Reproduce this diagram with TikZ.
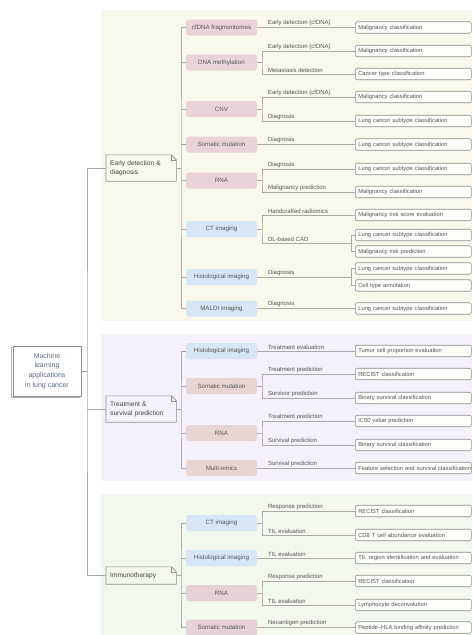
\documentclass[tikz,border=0pt]{standalone}
\usepackage{fontspec}
\setmainfont{Liberation Sans}
\usetikzlibrary{shadows}
\definecolor{pyel}{HTML}{F8F8EC}
\definecolor{ppur}{HTML}{F4F1FA}
\definecolor{pgrn}{HTML}{F2F8EE}
\definecolor{pinkA}{HTML}{E9D3D9}
\definecolor{pinkB}{HTML}{E7D5D3}
\definecolor{pinkC}{HTML}{E8D1D6}
\definecolor{blueM}{HTML}{D7E6F5}
\definecolor{linec}{HTML}{A9A9A9}
\definecolor{resc}{HTML}{8E8E8E}
\definecolor{resfill}{HTML}{FDFDFA}
\definecolor{txt}{HTML}{555555}
\definecolor{txtd}{HTML}{444444}
\definecolor{roottxt}{HTML}{5D6B7E}
\begin{document}
\begin{tikzpicture}[x=1pt,y=-1pt,
  font=\fontsize{6}{7.2}\selectfont,
  conn/.style={draw=linec, line width=0.6pt},
  catline/.style={draw=resc, line width=0.6pt},
  methodbox/.style={rounded corners=2.5pt, minimum width=71pt, minimum height=16pt, inner sep=0pt, text=txt, font=\fontsize{6.2}{7.2}\selectfont},
  mpinkA/.style={methodbox, fill=pinkA},
  mpinkB/.style={methodbox, fill=pinkB},
  mpinkC/.style={methodbox, fill=pinkC},
  mblue/.style={methodbox, fill=blueM},
  resbox/.style={draw=resc, line width=0.6pt, rounded corners=2pt, fill=resfill, anchor=west, minimum height=11.5pt, text width=110pt, inner xsep=3pt, inner ysep=0pt, align=left, text=txt, font=\fontsize{5.8}{7}\selectfont},
  tasklbl/.style={anchor=south west, inner sep=0.8pt, yshift=0.5pt, text=txt},
  catbox/.style={anchor=west, minimum width=70pt, text width=62pt, align=left, inner xsep=4pt, inner ysep=0pt, font=\fontsize{6.6}{9}\selectfont, text=txtd},
  rootbox/.style={draw=resc, line width=0.6pt, fill=white, minimum width=68pt, minimum height=50pt, inner sep=0pt, align=center, text=roottxt, font=\fontsize{7}{9.7}\selectfont, copy shadow={shadow xshift=-1.3pt, shadow yshift=-1.3pt, draw=resc!70, fill=white}}
]
\useasboundingbox (0,0) rectangle (472,635);
\begin{scope}
\clip (0,0) rectangle (472,635);
% panels
\path[fill=pyel, draw=pyel!85!black!20] (101,10) rectangle (480,320);
\path[fill=ppur, draw=ppur!85!black!20] (101,334) rectangle (480,480);
\path[fill=pgrn, draw=pgrn!85!black!20] (101,494) rectangle (480,645);

% root and categories
\node[rootbox] (root) at (47,371) {Machine\\learning\\applications\\in lung cancer};
\node[catbox, minimum height=26pt] (c1) at (106,168) {Early detection \&\\diagnosis};
\node[catbox, minimum height=26pt] (c2) at (106,409) {Treatment \&\\survival prediction};
\node[catbox, minimum height=17pt] (c3) at (106,575.5) {Immunotherapy};
\foreach \c in {c1,c2,c3}{
  \draw[catline] (\c.south west) -- (\c.north west) -- ([xshift=-5pt]\c.north east) -- ([yshift=-5pt]\c.north east) -- (\c.south east) -- cycle;
  \draw[catline] ([xshift=-5pt]\c.north east) -- ([xshift=-5pt,yshift=-5pt]\c.north east) -- ([yshift=-5pt]\c.north east);
}
\coordinate (tr) at (87,371);
\draw[conn] (root.east) -- (tr);
\draw[conn] (c1.west) -| (tr) |- (c3.west);
\draw[conn] (c2.west) -- (c2.west -| tr);

% ===== Early detection & diagnosis =====
\node[mpinkA] (m1) at (221.5,27.5) {cfDNA fragmentomes};
\node[mpinkA] (m2) at (221.5,62.5) {DNA methylation};
\node[mpinkA] (m3) at (221.5,109) {CNV};
\node[mpinkA] (m4) at (221.5,144.5) {Somatic mutation};
\node[mpinkA] (m5) at (221.5,180.5) {RNA};
\node[mblue] (m6) at (221.5,229) {CT imaging};
\node[mblue] (m7) at (221.5,277) {Histological imaging};
\node[mblue] (m8) at (221.5,308.5) {MALDI imaging};
\coordinate (b1) at (181,168);
\draw[conn] (c1.east) -- (b1);
\draw[conn] (m1.west) -| (b1) |- (m8.west);
\foreach \m in {m2,m3,m4,m5,m6,m7}{\draw[conn] (\m.west) -- (\m.west -| b1);}

\node[resbox] (r1) at (355,27.5) {Malignancy classification};
\node[resbox] (r2) at (355,51) {Malignancy classification};
\node[resbox] (r3) at (355,74) {Cancer type classification};
\node[resbox] (r4) at (355,97) {Malignancy classification};
\node[resbox] (r5) at (355,121) {Lung cancer subtype classification};
\node[resbox] (r6) at (355,144.5) {Lung cancer subtype classification};
\node[resbox] (r7) at (355,169) {Lung cancer subtype classification};
\node[resbox] (r8) at (355,192) {Malignancy classification};
\node[resbox] (r9) at (355,215) {Malignancy risk score evaluation};
\node[resbox] (r10) at (355,235) {Lung cancer subtype classification};
\node[resbox] (r11) at (355,251.5) {Malignancy risk prediction};
\node[resbox] (r12) at (355,268.5) {Lung cancer subtype classification};
\node[resbox] (r13) at (355,285.5) {Cell type annotation};
\node[resbox] (r14) at (355,308.5) {Lung cancer subtype classification};

\draw[conn] (m1.east) -- (r1.west);
\coordinate (j2) at (262,62.5);
\draw[conn] (m2.east) -- (j2);
\draw[conn] (r2.west) -| (j2) |- (r3.west);
\coordinate (j3) at (262,109);
\draw[conn] (m3.east) -- (j3);
\draw[conn] (r4.west) -| (j3) |- (r5.west);
\draw[conn] (m4.east) -- (r6.west);
\coordinate (j5) at (262,180.5);
\draw[conn] (m5.east) -- (j5);
\draw[conn] (r7.west) -| (j5) |- (r8.west);
\coordinate (j6) at (262,229);
\coordinate (k6) at (351.5,243.25);
\draw[conn] (m6.east) -- (j6);
\draw[conn] (r9.west) -| (j6) |- (k6);
\draw[conn] (r10.west) -| (k6) |- (r11.west);
\coordinate (k7) at (351.5,277);
\draw[conn] (m7.east) -- (k7);
\draw[conn] (r12.west) -| (k7) |- (r13.west);
\draw[conn] (m8.east) -- (r14.west);

\node[tasklbl] (t1) at (267,27.5) {Early detection (cfDNA)};
\node[tasklbl] (t2) at (267,51) {Early detection (cfDNA)};
\node[tasklbl] (t3) at (267,74) {Metastasis detection};
\node[tasklbl] (t4) at (267,97) {Early detection (cfDNA)};
\node[tasklbl] (t5) at (267,121) {Diagnosis};
\node[tasklbl] (t6) at (267,144.5) {Diagnosis};
\node[tasklbl] (t7) at (267,169) {Diagnosis};
\node[tasklbl] (t8) at (267,192) {Malignancy prediction};
\node[tasklbl] (t9) at (267,215) {Handcrafted radiomics};
\node[tasklbl] (t10) at (267,243.25) {DL-based CAD};
\node[tasklbl] (t11) at (267,277) {Diagnosis};
\node[tasklbl] (t12) at (267,308.5) {Diagnosis};

% ===== Treatment & survival prediction =====
\node[mblue] (m9) at (221.5,351) {Histological imaging};
\node[mpinkB] (m10) at (221.5,386) {Somatic mutation};
\node[mpinkB] (m11) at (221.5,433) {RNA};
\node[mpinkB] (m12) at (221.5,468) {Multi-omics};
\coordinate (b2) at (181,409);
\draw[conn] (c2.east) -- (b2);
\draw[conn] (m9.west) -| (b2) |- (m12.west);
\foreach \m in {m10,m11}{\draw[conn] (\m.west) -- (\m.west -| b2);}

\node[resbox] (r15) at (355,351) {Tumor cell proportion evaluation};
\node[resbox] (r16) at (355,374) {RECIST classification};
\node[resbox] (r17) at (355,398) {Binary survival classification};
\node[resbox] (r18) at (355,421) {IC50 value prediction};
\node[resbox] (r19) at (355,445) {Binary survival classification};
\node[resbox] (r20) at (355,468) {\mbox{Feature selection and survival classification}};

\draw[conn] (m9.east) -- (r15.west);
\coordinate (j10) at (262,386);
\draw[conn] (m10.east) -- (j10);
\draw[conn] (r16.west) -| (j10) |- (r17.west);
\coordinate (j11) at (262,433);
\draw[conn] (m11.east) -- (j11);
\draw[conn] (r18.west) -| (j11) |- (r19.west);
\draw[conn] (m12.east) -- (r20.west);

\node[tasklbl] (t13) at (267,351) {Treatment evaluation};
\node[tasklbl] (t14) at (267,374) {Treatment prediction};
\node[tasklbl] (t15) at (267,398) {Survivor prediction};
\node[tasklbl] (t16) at (267,421) {Treatment prediction};
\node[tasklbl] (t17) at (267,445) {Survival prediction};
\node[tasklbl] (t18) at (267,468) {Survival prediction};

% ===== Immunotherapy =====
\node[mblue] (m13) at (221.5,523) {CT imaging};
\node[mblue] (m14) at (221.5,558) {Histological imaging};
\node[mpinkC] (m15) at (221.5,593) {RNA};
\node[mpinkC] (m16) at (221.5,627.5) {Somatic mutation};
\coordinate (b3) at (181,575.5);
\draw[conn] (c3.east) -- (b3);
\draw[conn] (m13.west) -| (b3) |- (m16.west);
\foreach \m in {m14,m15}{\draw[conn] (\m.west) -- (\m.west -| b3);}

\node[resbox] (r21) at (355,511) {RECIST classification};
\node[resbox] (r22) at (355,535) {CD8 T cell abundance evaluation};
\node[resbox] (r23) at (355,558) {TIL region identification and evaluation};
\node[resbox] (r24) at (355,581) {RECIST classification};
\node[resbox] (r25) at (355,605) {Lymphocyte deconvolution};
\node[resbox] (r26) at (355,627.5) {Peptide–HLA binding affinity prediction};

\coordinate (j13) at (262,523);
\draw[conn] (m13.east) -- (j13);
\draw[conn] (r21.west) -| (j13) |- (r22.west);
\draw[conn] (m14.east) -- (r23.west);
\coordinate (j15) at (262,593);
\draw[conn] (m15.east) -- (j15);
\draw[conn] (r24.west) -| (j15) |- (r25.west);
\draw[conn] (m16.east) -- (r26.west);

\node[tasklbl] (t19) at (267,511) {Response prediction};
\node[tasklbl] (t20) at (267,535) {TIL evaluation};
\node[tasklbl] (t21) at (267,558) {TIL evaluation};
\node[tasklbl] (t22) at (267,581) {Response prediction};
\node[tasklbl] (t23) at (267,605) {TIL evaluation};
\node[tasklbl] (t24) at (267,627.5) {Neoantigen prediction};
\end{scope}
\end{tikzpicture}
\end{document}
